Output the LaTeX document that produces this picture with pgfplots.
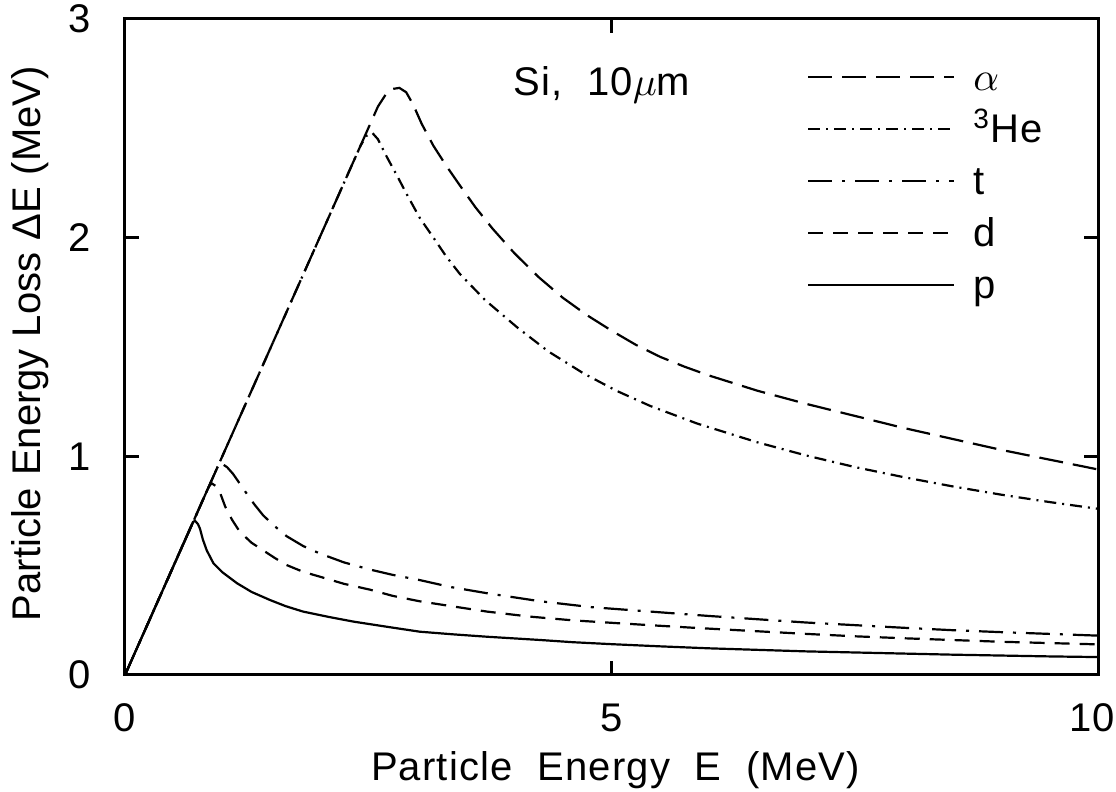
\documentclass[border=0pt]{standalone}
\usepackage{fontspec}
\setmainfont{Liberation Sans}[LetterSpace=3]
\newfontfamily\ylfont{Liberation Sans}
\usepackage{pgfplots}
\pgfplotsset{compat=1.18}
\begin{document}
\begin{tikzpicture}[font=\fontsize{10}{12}\selectfont]
\begin{axis}[
  name=ax,
  scale only axis, width=243.25pt, height=164pt,
  xmin=0, xmax=10, ymin=0, ymax=3,
  xtick={0,5,10}, ytick={0,1,2,3},
  xticklabels={0,5,{\kern-3pt 10}},
  minor tick num=0,
  tick align=inside, major tick length=3.5pt,
  every tick/.style={black, line width=0.75pt},
  axis line style={line width=0.75pt},
  /pgf/number format/assume math mode=true,
  xticklabel style={anchor=center, yshift=-10.75pt},
  yticklabel style={anchor=center, xshift=-11.25pt},
  xlabel={Particle\ \ Energy\ \ E\ \ (MeV)},
  ylabel={\ylfont Particle\hspace{3pt}Energy\hspace{3pt}Loss\hspace{3pt}ΔE\hspace{3pt}(MeV)},
  xlabel style={at={(axis description cs:0.504,-0.145)}, anchor=center},
  ylabel style={at={(axis description cs:-0.0976,0.505)}, anchor=center},
  legend style={draw=none, fill=none, at={(axis description cs:0.701,0.933)}, anchor=north west,
    inner sep=0pt, outer sep=0pt, row sep=6pt, column sep=4.5pt,
    nodes={inner sep=0pt, text height=7pt, text depth=0pt}},
  legend cell align=left,
  legend image code/.code={\draw[#1] (0pt,0pt) -- (36.5pt,0pt);},
]
\addplot[black, line width=0.55pt, dash pattern=on 6pt off 2.5pt] coordinates {
 (0,0) (2.60,2.60) (2.68,2.655) (2.75,2.68) (2.82,2.685) (2.89,2.665) (2.96,2.61) (3.05,2.52)
 (3.17,2.42) (3.3,2.33) (3.44,2.24) (3.6,2.14) (3.78,2.04) (4.0,1.93) (4.25,1.82) (4.5,1.725)
 (4.75,1.645) (5.0,1.575) (5.25,1.51) (5.5,1.455) (5.75,1.41) (6.0,1.37) (6.5,1.30) (7,1.24)
 (7.5,1.185) (8,1.13) (8.5,1.08) (9,1.03) (9.5,0.985) (10,0.94)};
\addlegendentry{$\alpha$}
\addplot[black, line width=0.55pt, dash pattern=on 3pt off 1.5pt on 0.5pt off 1.5pt] coordinates {
 (0,0) (2.42,2.42) (2.48,2.465) (2.54,2.48) (2.60,2.45) (2.69,2.37) (2.80,2.28) (2.90,2.195)
 (3.03,2.09) (3.17,2.0) (3.3,1.915) (3.44,1.835) (3.7,1.715) (4.03,1.59) (4.35,1.48) (4.71,1.38)
 (5.05,1.30) (5.40,1.23) (5.88,1.15) (6.5,1.064) (7,1.004) (7.5,0.951) (8,0.905) (8.5,0.863)
 (9,0.825) (9.5,0.791) (10,0.76)};
\addlegendentry{\textsuperscript{3}He}
\addplot[black, line width=0.55pt, dash pattern=on 6pt off 2.5pt on 0.75pt off 2.5pt] coordinates {
 (0,0) (0.95,0.95) (1.0,0.965) (1.05,0.95) (1.11,0.92) (1.18,0.875) (1.25,0.83) (1.33,0.78)
 (1.42,0.73) (1.54,0.68) (1.66,0.635) (1.83,0.59) (2.0,0.556) (2.25,0.515) (2.52,0.482)
 (2.75,0.458) (3.03,0.434) (3.35,0.402) (3.72,0.374) (4.27,0.337) (4.8,0.31) (5.4,0.29)
 (6,0.27) (6.5,0.255) (7,0.24) (7.5,0.228) (8,0.216) (8.5,0.205) (9,0.196) (9.5,0.188) (10,0.18)};
\addlegendentry{t}
\addplot[black, line width=0.55pt, dash pattern=on 3.75pt off 2.5pt] coordinates {
 (0,0) (0.86,0.86) (0.89,0.877) (0.93,0.865) (0.98,0.83) (1.03,0.77) (1.1,0.71) (1.18,0.655)
 (1.3,0.605) (1.42,0.57) (1.54,0.535) (1.66,0.503) (1.83,0.472) (2.0,0.45) (2.25,0.417)
 (2.52,0.39) (2.75,0.362) (3.03,0.337) (3.35,0.315) (3.72,0.29) (4.16,0.267) (4.6,0.25)
 (5.06,0.237) (5.5,0.225) (5.88,0.215) (6.5,0.2) (7,0.188) (7.5,0.177) (8,0.168) (8.5,0.16)
 (9,0.152) (9.5,0.146) (10,0.14)};
\addlegendentry{d}
\addplot[black, line width=0.55pt] coordinates {
 (0,0) (0.70,0.70) (0.72,0.705) (0.75,0.69) (0.77,0.67) (0.80,0.62) (0.84,0.57) (0.91,0.51)
 (1.0,0.47) (1.15,0.42) (1.3,0.38) (1.49,0.343) (1.65,0.315) (1.83,0.29) (2.1,0.265)
 (2.35,0.244) (2.7,0.22) (3.03,0.198) (3.37,0.186) (3.72,0.175) (4.27,0.16) (4.6,0.15)
 (5,0.141) (5.5,0.131) (6,0.122) (6.5,0.115) (7,0.108) (7.5,0.103) (8,0.098) (8.5,0.093)
 (9,0.089) (9.5,0.085) (10,0.082)};
\addlegendentry{p}
\node[anchor=base] at (axis cs:4.9,2.652) {Si,\ \ 10$\mu$m};
\end{axis}
\pgfresetboundingbox
\path[use as bounding box] ([xshift=-31.25pt,yshift=-29.25pt]ax.south west) rectangle ([xshift=4.5pt,yshift=4.75pt]ax.north east);
\end{tikzpicture}
\end{document}
